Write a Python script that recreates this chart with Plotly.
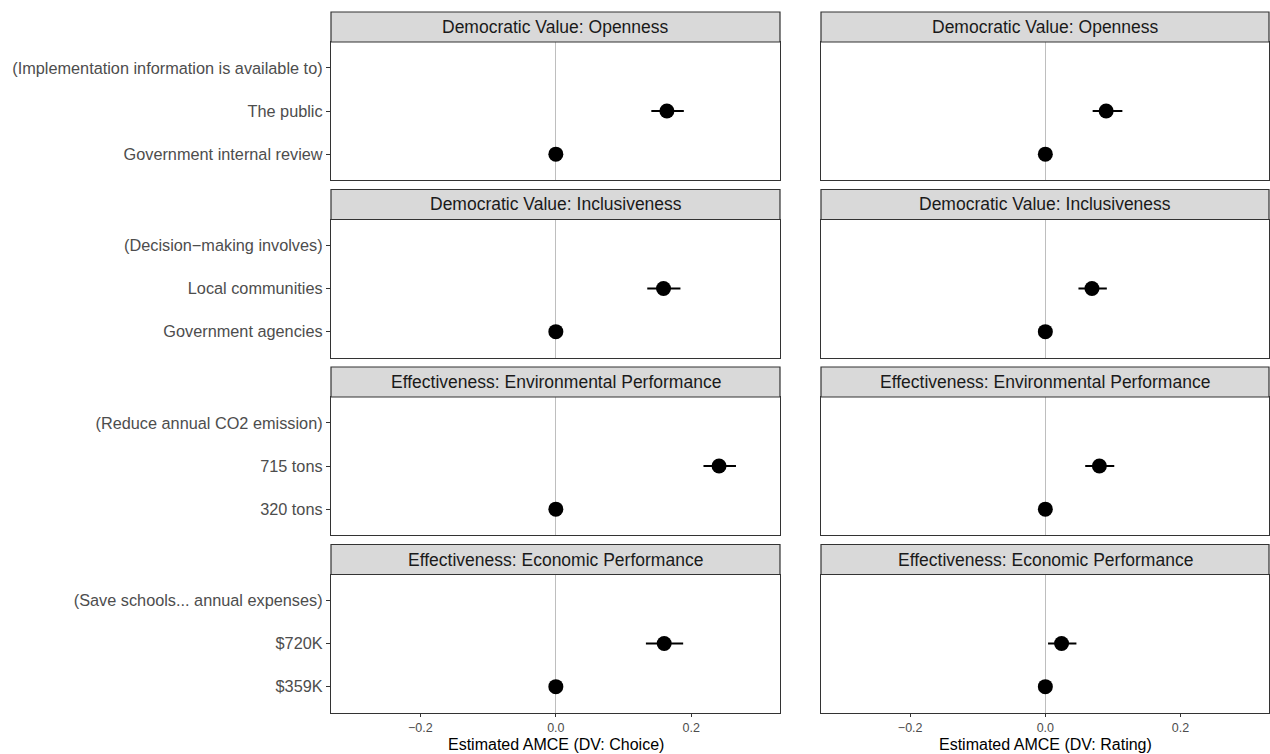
import plotly.graph_objects as go

# ---------------- data ----------------
facets = ["Democratic Value: Openness", "Democratic Value: Inclusiveness",
          "Effectiveness: Environmental Performance", "Effectiveness: Economic Performance"]
headers = ["(Implementation information is available to)", "(Decision\u2212making involves)",
           "(Reduce annual CO2 emission)", "(Save schools... annual expenses)"]
level_hi = ["The public", "Local communities", "715 tons", "$720K"]
level_base = ["Government internal review", "Government agencies", "320 tons", "$359K"]

choice_est = [0.164, 0.159, 0.241, 0.160]
choice_lo = [0.141, 0.135, 0.218, 0.133]
choice_hi = [0.189, 0.184, 0.266, 0.188]

rating_est = [0.090, 0.069, 0.080, 0.024]
rating_lo = [0.070, 0.049, 0.059, 0.004]
rating_hi = [0.114, 0.091, 0.102, 0.046]

x_titles = ["Estimated AMCE (DV: Choice)", "Estimated AMCE (DV: Rating)"]
x_tickvals = [-0.2, 0.0, 0.2]
x_ticktext = ["\u22120.2", "0.0", "0.2"]

# ---------------- layout geometry ----------------
W, H = 1270, 754
FONT = "Liberation Sans, Arial, Helvetica, sans-serif"
col_px = [(331, 780), (821, 1269)]
strip_h = 30
panel_h = 138
block = 177.5
first_top = 42

fig = go.Figure()
layout = dict(width=W, height=H, margin=dict(l=0, r=0, t=0, b=0),
              paper_bgcolor="white", plot_bgcolor="white", showlegend=False,
              font=dict(family=FONT))
shapes, annotations = [], []

series = [(choice_est, choice_lo, choice_hi), (rating_est, rating_lo, rating_hi)]

for r in range(4):
    p_top = first_top + r * block
    p_bot = p_top + panel_h
    for c in range(2):
        k = r * 2 + c + 1
        xa = "xaxis" if k == 1 else f"xaxis{k}"
        ya = "yaxis" if k == 1 else f"yaxis{k}"
        xr = "x" if k == 1 else f"x{k}"
        yr = "y" if k == 1 else f"y{k}"
        x0, x1 = col_px[c]
        bottom = (r == 3)
        layout[xa] = dict(domain=[x0 / W, x1 / W], anchor=yr, range=[-0.332, 0.331],
                          showgrid=False, zeroline=True, zerolinecolor="#BEBEBE", zerolinewidth=1,
                          showline=True, mirror=True, linecolor="#333333", linewidth=1.2,
                          tickvals=x_tickvals, ticktext=x_ticktext,
                          showticklabels=bottom, ticks="outside" if bottom else "",
                          ticklen=3, tickcolor="#333333",
                          tickfont=dict(size=12.5, color="#4D4D4D", family=FONT))
        layout[ya] = dict(domain=[1 - p_bot / H, 1 - p_top / H], anchor=xr, range=[-0.6, 2.6],
                          showgrid=False, zeroline=False,
                          showline=True, mirror=True, linecolor="#333333", linewidth=1.2,
                          tickvals=[0, 1, 2],
                          ticktext=[level_base[r], level_hi[r], headers[r]],
                          showticklabels=(c == 0), ticks="outside" if c == 0 else "",
                          ticklen=4, tickcolor="#333333",
                          tickfont=dict(size=16.3, color="#4D4D4D", family=FONT))
        est, lo, hi = series[c]
        fig.add_trace(go.Scatter(
            x=[0.0, est[r]], y=[0, 1], mode="markers", xaxis=xr, yaxis=yr,
            marker=dict(size=15, color="black"),
            error_x=dict(type="data", symmetric=False,
                         array=[0.0, hi[r] - est[r]], arrayminus=[0.0, est[r] - lo[r]],
                         width=0, thickness=2, color="black"),
            hoverinfo="skip"))
        # strip
        shapes.append(dict(type="rect", xref="paper", yref="paper",
                           x0=x0 / W, x1=x1 / W, y0=1 - p_top / H, y1=1 - (p_top - strip_h) / H,
                           fillcolor="#D9D9D9", line=dict(color="#333333", width=1.2), layer="above"))
        annotations.append(dict(text=facets[r], xref="paper", yref="paper",
                                x=(x0 + x1) / 2 / W, y=1 - (p_top - strip_h / 2) / H,
                                xanchor="center", yanchor="middle", showarrow=False,
                                font=dict(size=17.5, color="#1A1A1A", family=FONT)))

for c in range(2):
    x0, x1 = col_px[c]
    annotations.append(dict(text=x_titles[c], xref="paper", yref="paper",
                            x=(x0 + x1) / 2 / W, y=1 - 744 / H,
                            xanchor="center", yanchor="middle", showarrow=False,
                            font=dict(size=16, color="black", family=FONT)))

layout["shapes"] = shapes
layout["annotations"] = annotations
fig.update_layout(**layout)
fig.write_html("out.html", config={"displayModeBar": False},
               post_script="document.body.style.margin='0';document.body.style.padding='0';")
